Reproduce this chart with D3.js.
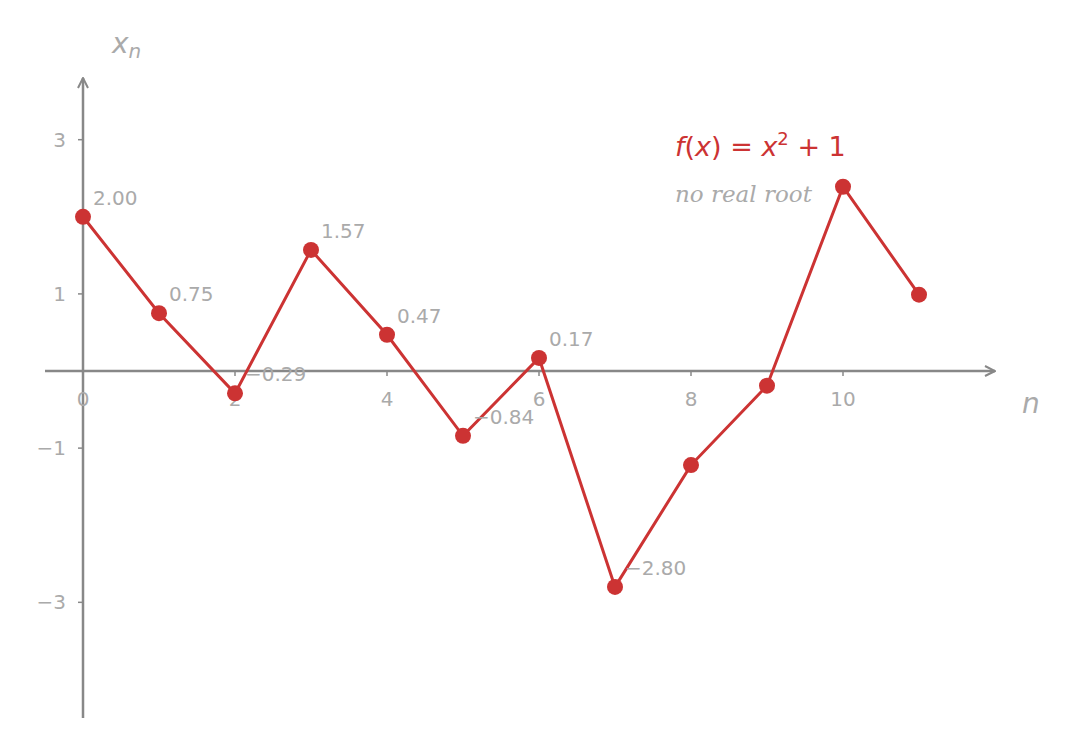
<!DOCTYPE html>
<html><head><meta charset="utf-8">
<script src="https://cdn.jsdelivr.net/npm/d3@7"></script>
<style>body{margin:0;background:#fff}text{font-family:"DejaVu Sans",sans-serif}</style>
</head><body><svg id="c" width="1073" height="749"></svg>
<script>
var ns = [0,1,2,3,4,5,6,7,8,9,10,11];
var xs = [2.00,0.75,-0.29,1.57,0.47,-0.84,0.17,-2.80,-1.22,-0.19,2.39,0.99];
var labelled = 8;
var xTicks = [0,2,4,6,8,10];
var yTicks = [3,1,-1,-3];

var svg = d3.select('#c');
var x = d3.scaleLinear().domain([-0.5,12]).range([45,995]);
var y = d3.scaleLinear().domain([3.8,-4.5]).range([78,718]);
var axisCol = '#888', txt = '#aaa', red = '#cc3333';

svg.append('defs').append('marker').attr('id','arr').attr('viewBox','0 0 12 12')
  .attr('refX',11).attr('refY',6).attr('markerWidth',12).attr('markerHeight',12)
  .attr('markerUnits','userSpaceOnUse').attr('orient','auto')
  .append('path').attr('d','M1,1 L11,6 L1,11').attr('fill','none').attr('stroke',axisCol).attr('stroke-width',2);

svg.append('line').attr('x1',x(-0.5)).attr('x2',x(12)).attr('y1',y(0)).attr('y2',y(0))
  .attr('stroke',axisCol).attr('stroke-width',2.5).attr('marker-end','url(#arr)');
svg.append('line').attr('x1',x(0)).attr('x2',x(0)).attr('y1',y(-4.5)).attr('y2',y(3.8))
  .attr('stroke',axisCol).attr('stroke-width',2.5).attr('marker-end','url(#arr)');

xTicks.forEach(function(t){
  svg.append('line').attr('x1',x(t)).attr('x2',x(t)).attr('y1',y(0)).attr('y2',y(0)+5).attr('stroke',axisCol).attr('stroke-width',1.5);
  svg.append('text').attr('x',x(t)).attr('y',y(0)+35).attr('text-anchor','middle')
    .attr('font-size',20).attr('fill',txt).text(t);
});
yTicks.forEach(function(t){
  svg.append('line').attr('x1',x(0)-5).attr('x2',x(0)).attr('y1',y(t)).attr('y2',y(t)).attr('stroke',axisCol).attr('stroke-width',1.5);
  svg.append('text').attr('x',x(0)-17).attr('y',y(t)+7).attr('text-anchor','end')
    .attr('font-size',20).attr('fill',txt).text(d3.format('')(t).replace('-','\u2212'));
});

svg.append('text').attr('x',112).attr('y',53).attr('font-size',28).attr('font-style','italic').attr('fill',txt)
  .html('x<tspan font-size="20" dy="5">n</tspan>');
svg.append('text').attr('x',1022).attr('y',413).attr('font-size',28).attr('font-style','italic').attr('fill',txt).text('n');

var line = d3.line().x(function(d,i){return x(ns[i]);}).y(function(d){return y(d);});
svg.append('path').datum(xs).attr('d',line).attr('fill','none').attr('stroke',red).attr('stroke-width',3);
svg.selectAll('circle').data(xs).enter().append('circle')
  .attr('cx',function(d,i){return x(ns[i]);}).attr('cy',function(d){return y(d);})
  .attr('r',8).attr('fill',red);
svg.selectAll('text.v').data(xs.slice(0,labelled)).enter().append('text').attr('class','v')
  .attr('x',function(d,i){return x(ns[i])+10;}).attr('y',function(d){return y(d)-12;})
  .attr('font-size',20).attr('fill',txt)
  .text(function(d){return d3.format('.2f')(d).replace('-','\u2212');});

svg.append('text').attr('x',675).attr('y',156).attr('font-size',27).attr('fill',red)
  .html('<tspan font-style="italic">f</tspan>(<tspan font-style="italic">x</tspan>) = <tspan font-style="italic">x</tspan><tspan font-size="18" dy="-11">2</tspan><tspan dy="11"> + 1</tspan>');
svg.append('text').attr('x',675).attr('y',202).attr('font-size',23).attr('font-style','italic')
  .attr('font-family','"DejaVu Serif",serif').style('font-family','"DejaVu Serif",serif').attr('fill',txt).text('no real root');
</script></body></html>
